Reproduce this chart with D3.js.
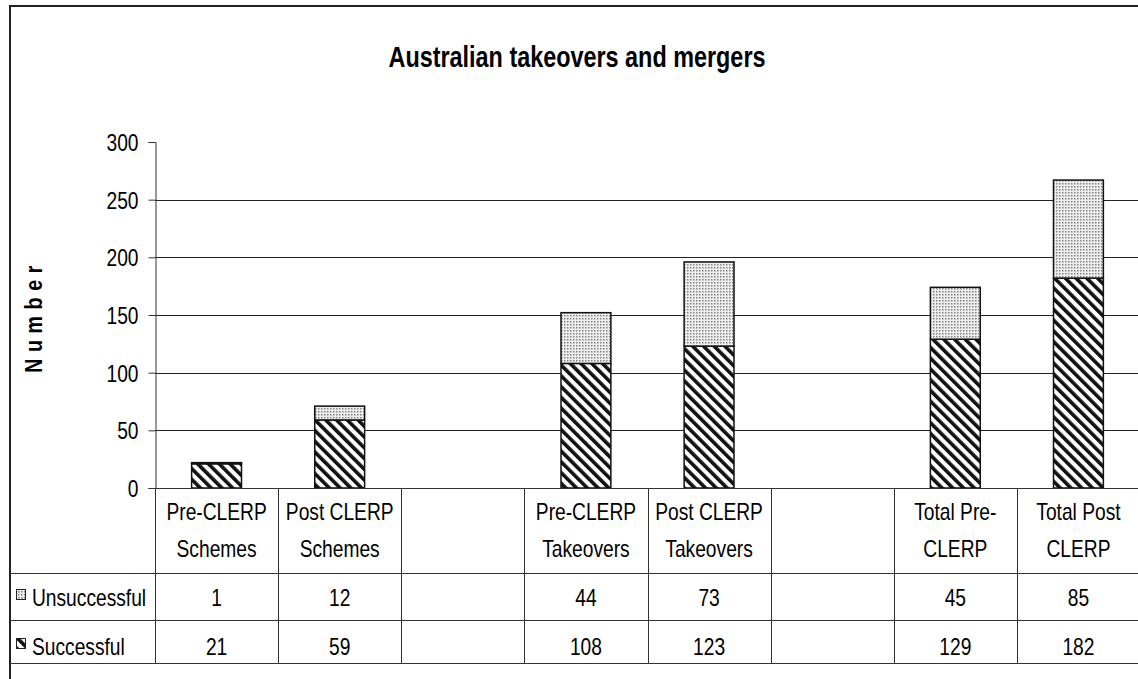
<!DOCTYPE html>
<html lang="en">
<head>
	<meta charset="utf-8">
	<title>Australian takeovers and mergers</title>
	<script type="text/javascript" src="https://cdn.jsdelivr.net/npm/d3@7"></script>
	<style>
		body { margin: 0; background: #fff; }
		text { font-family: "Liberation Sans", Arial, sans-serif; fill: #000; }
		.grid line { stroke: #222; shape-rendering: crispEdges; }
		.rule { stroke: #333; stroke-width: 1; shape-rendering: crispEdges; }
	</style>
</head>
<body>
	<div id="chart"></div>
	<script type="text/javascript">
	// categories (two lines each, blanks are the empty gap columns)
	var categories = [
		["Pre-CLERP", "Schemes"],
		["Post CLERP", "Schemes"],
		["", ""],
		["Pre-CLERP", "Takeovers"],
		["Post CLERP", "Takeovers"],
		["", ""],
		["Total Pre-", "CLERP"],
		["Total Post", "CLERP"]
	];
	var successful   = [21, 59, null, 108, 123, null, 129, 182];
	var unsuccessful = [1, 12, null, 44, 73, null, 45, 85];
	var seriesNames = ["Unsuccessful", "Successful"];
	var yTicks = [0, 50, 100, 150, 200, 250, 300];

	var w = 1138,
	    h = 679;
	var NARROW = 0.8; // no Arial Narrow here, so squeeze Liberation Sans

	var svg = d3.select("#chart")
		.append("svg")
		.attr("width", w)
		.attr("height", h);

	// narrow text helper
	function ntext(parent, x, y, size, anchor, str) {
		return parent.append("text")
			.attr("transform", "translate(" + x + "," + y + ") scale(" + NARROW + ",1)")
			.attr("text-anchor", anchor)
			.attr("font-size", size + "px")
			.text(str);
	}

	// patterns
	var defs = svg.append("defs");
	var stripes = defs.append("pattern")
		.attr("id", "stripes")
		.attr("patternUnits", "userSpaceOnUse")
		.attr("width", 7.6).attr("height", 7.6)
		.attr("patternTransform", "rotate(-45)");
	stripes.append("rect").attr("width", 7.6).attr("height", 7.6).attr("fill", "#fff");
	stripes.append("rect").attr("width", 3.6).attr("height", 7.6).attr("fill", "#111");

	var dots = defs.append("pattern")
		.attr("id", "dots")
		.attr("patternUnits", "userSpaceOnUse")
		.attr("width", 3).attr("height", 3);
	dots.append("rect").attr("width", 3).attr("height", 3).attr("fill", "#eee");
	dots.append("rect").attr("width", 1.5).attr("height", 1.5).attr("fill", "#858585");

	var x0 = 155, x1 = 1140;
	var yTop = 142, yBase = 488;
	var rowTops = [488, 572.5, 620, 663];

	var x = d3.scaleBand()
		.domain(d3.range(categories.length))
		.range([x0, x1])
		.paddingInner(0).paddingOuter(0);

	var y = d3.scaleLinear()
		.domain([0, 300])
		.range([yBase, yTop]);

	// frame
	svg.append("rect")
		.attr("x", 10).attr("y", 6)
		.attr("width", w).attr("height", h)
		.attr("fill", "none")
		.attr("stroke", "#222")
		.attr("stroke-width", 2);

	// title
	svg.append("text")
		.attr("transform", "translate(577,67) scale(0.78,1)")
		.attr("text-anchor", "middle")
		.attr("font-size", "30px")
		.style("font-weight", "bold")
		.text("Australian takeovers and mergers");

	// y label
	svg.append("text")
		.attr("transform", "translate(42,316) rotate(-90) scale(0.82,1)")
		.attr("text-anchor", "middle")
		.attr("font-size", "24px")
		.attr("letter-spacing", "8px")
		.style("font-weight", "bold")
		.text("Number");

	// gridlines
	svg.append("g")
		.attr("class", "grid")
		.selectAll("line")
		.data(yTicks.filter(function(d) { return d > 0 && d < 300; }))
		.enter()
		.append("line")
		.attr("x1", x0).attr("x2", w)
		.attr("y1", function(d) { return Math.round(y(d)) + 0.5; })
		.attr("y2", function(d) { return Math.round(y(d)) + 0.5; });

	// y axis
	var yAxis = d3.axisLeft(y)
		.tickValues(yTicks)
		.tickSize(7);
	var gy = svg.append("g")
		.attr("transform", "translate(" + (x0 + 0.5) + ",0)")
		.call(yAxis);
	gy.select(".domain").attr("stroke", "#333");
	gy.selectAll(".tick line").attr("stroke", "#333");
	gy.selectAll(".tick text")
		.attr("font-size", "24px")
		.attr("x", -17 / NARROW)
		.attr("dy", "0.36em")
		.attr("transform", "scale(" + NARROW + ",1)")
		.style("font-family", "'Liberation Sans', Arial, sans-serif");

	// stacked bars
	var rows = categories.map(function(c, i) {
		return { i: i, Successful: successful[i] || 0, Unsuccessful: unsuccessful[i] || 0, empty: successful[i] == null };
	});
	var stack = d3.stack().keys(["Successful", "Unsuccessful"]);
	var layers = stack(rows);
	var fills = { Successful: "url(#stripes)", Unsuccessful: "url(#dots)" };
	var barW = x.bandwidth() * 0.405;

	svg.selectAll(".layer")
		.data(layers)
		.enter()
		.append("g")
		.attr("class", "layer")
		.attr("fill", function(d) { return fills[d.key]; })
		.selectAll("rect")
		.data(function(d) { return d.filter(function(p) { return !p.data.empty; }); })
		.enter()
		.append("rect")
		.attr("x", function(d) { return x(d.data.i) + (x.bandwidth() - barW) / 2; })
		.attr("y", function(d) { return y(d[1]); })
		.attr("width", barW)
		.attr("height", function(d) { return y(d[0]) - y(d[1]); })
		.attr("stroke", "#111")
		.attr("stroke-width", 1.5);

	// data table
	var table = svg.append("g");
	table.append("line").attr("class", "rule")
		.attr("x1", x0).attr("x2", w)
		.attr("y1", yBase + 0.5).attr("y2", yBase + 0.5);
	rowTops.slice(1).forEach(function(t) {
		table.append("line").attr("class", "rule")
			.attr("x1", 10).attr("x2", w)
			.attr("y1", Math.round(t) + 0.5).attr("y2", Math.round(t) + 0.5);
	});
	d3.range(categories.length + 1).forEach(function(i) {
		var xx = Math.round(i < categories.length ? x(i) : x1) + 0.5;
		table.append("line").attr("class", "rule")
			.attr("x1", xx).attr("x2", xx)
			.attr("y1", yBase).attr("y2", rowTops[3]);
	});

	// category labels
	categories.forEach(function(c, i) {
		var cx = x(i) + x.bandwidth() / 2;
		c.forEach(function(line, k) {
			ntext(table, cx, 520 + k * 36.5, 24, "middle", line);
		});
	});

	// value rows
	var seriesValues = { Unsuccessful: unsuccessful, Successful: successful };
	var rowBase = [606, 655];
	seriesNames.forEach(function(name, r) {
		table.append("rect")
			.attr("x", 16.5)
			.attr("y", rowBase[r] - 16.5)
			.attr("width", 9).attr("height", 10)
			.attr("fill", name === "Successful" ? "url(#stripes)" : "url(#dots)")
			.attr("stroke", "#222")
			.attr("stroke-width", 1);
		ntext(table, 32, rowBase[r], 24, "start", name);
		seriesValues[name].forEach(function(v, i) {
			if (v == null) return;
			ntext(table, x(i) + x.bandwidth() / 2, rowBase[r], 24, "middle", v);
		});
	});
	</script>
</body>
</html>
